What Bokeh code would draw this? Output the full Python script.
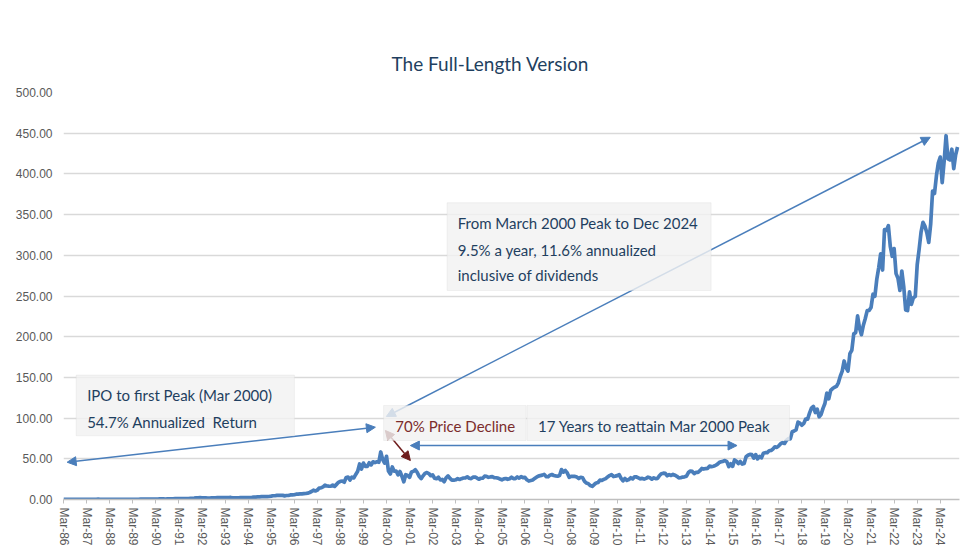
from bokeh.plotting import figure
from bokeh.models import (ColumnDataSource, FixedTicker, NumeralTickFormatter, Arrow,
                          NormalHead, BoxAnnotation, Label, Range1d)
from bokeh.embed import file_html
from bokeh.resources import INLINE

# Monthly closing price (split-adjusted, USD), March 1986 .. December 2024
month_close = [
    0.10, 0.10, 0.11, 0.10, 0.09, 0.10, 0.10, 0.11, 0.12, 0.12,                  # 1986 (Mar-Dec)
    0.17, 0.20, 0.23, 0.24, 0.25, 0.27, 0.29, 0.33, 0.36, 0.25, 0.22, 0.24,      # 1987
    0.22, 0.23, 0.25, 0.26, 0.25, 0.26, 0.27, 0.26, 0.27, 0.24, 0.23, 0.23,      # 1988
    0.26, 0.28, 0.27, 0.30, 0.31, 0.33, 0.38, 0.39, 0.40, 0.37, 0.36, 0.38,      # 1989
    0.44, 0.48, 0.56, 0.61, 0.70, 0.75, 0.68, 0.64, 0.66, 0.71, 0.82, 0.86,      # 1990
    1.00, 1.14, 1.23, 1.15, 1.13, 1.03, 1.12, 1.25, 1.38, 1.48, 1.60, 1.94,      # 1991
    2.10, 2.25, 2.05, 1.95, 2.00, 1.80, 1.84, 1.95, 2.03, 2.10, 2.35, 2.38,      # 1992
    2.35, 2.25, 2.40, 2.45, 2.35, 2.50, 2.15, 2.15, 2.00, 2.15, 2.23, 2.25,      # 1993
    2.35, 2.30, 2.30, 2.40, 2.60, 2.90, 3.00, 3.30, 3.30, 3.60, 3.60, 3.50,      # 1994
    3.60, 3.70, 4.10, 4.60, 4.60, 5.10, 5.10, 5.10, 5.10, 4.50, 4.90, 4.90,      # 1995
    5.60, 5.60, 5.80, 6.50, 6.60, 6.80, 7.00, 7.20, 7.40, 7.80, 8.60, 9.80,      # 1996
    11.5, 10.5, 11.5, 14.0, 14.5, 15.5, 17.6, 16.6, 16.4, 16.3, 17.7, 16.1,      # 1997
    18.6, 21.1, 22.4, 22.5, 21.2, 27.0, 27.5, 23.8, 27.5, 26.5, 30.8, 34.7,      # 1998
    43.6, 37.5, 44.8, 40.6, 40.6, 45.1, 42.5, 46.3, 45.3, 46.3, 45.7, 58.4,      # 1999
    48.9, 44.7, 53.1, 35.0, 31.3, 40.0, 34.8, 35.0, 30.2, 34.4, 28.6, 21.7,      # 2000
    30.5, 29.5, 27.3, 33.9, 34.6, 36.5, 33.1, 28.5, 25.6, 29.1, 32.1, 33.1,      # 2001
    31.9, 29.2, 30.2, 26.1, 25.5, 27.4, 24.0, 24.6, 21.9, 26.7, 28.9, 25.9,      # 2002
    23.7, 23.7, 24.2, 25.6, 24.6, 25.6, 26.4, 26.5, 27.8, 26.1, 25.7, 27.4,      # 2003
    27.6, 26.5, 24.9, 26.1, 26.2, 28.6, 28.5, 27.3, 27.7, 28.0, 26.8, 26.7,      # 2004
    26.3, 25.2, 24.2, 25.3, 25.8, 24.8, 25.6, 27.4, 25.7, 25.7, 27.7, 26.2,      # 2005
    28.2, 26.9, 27.2, 24.2, 22.7, 23.3, 24.0, 25.7, 27.4, 28.7, 29.4, 29.9,      # 2006
    30.9, 28.2, 27.9, 29.9, 30.7, 29.5, 29.0, 28.7, 29.5, 36.8, 33.6, 35.6,      # 2007
    32.6, 27.2, 28.4, 28.5, 28.3, 27.5, 25.7, 27.3, 26.7, 22.3, 20.2, 19.4,      # 2008
    17.1, 16.2, 18.4, 20.3, 20.9, 23.8, 23.5, 24.7, 25.7, 27.7, 29.4, 30.5,      # 2009
    28.2, 28.7, 29.3, 30.5, 26.0, 23.0, 25.8, 23.5, 24.5, 26.7, 25.3, 27.9,      # 2010
    27.7, 26.6, 25.4, 26.0, 25.0, 26.0, 27.4, 26.6, 24.9, 26.6, 25.6, 26.0,      # 2011
    29.5, 31.7, 32.3, 32.0, 29.2, 30.6, 29.5, 30.8, 29.8, 28.5, 26.6, 26.7,      # 2012
    27.5, 27.8, 28.6, 33.1, 34.9, 34.5, 31.8, 33.4, 33.3, 35.4, 38.1, 37.4,      # 2013
    38.0, 38.3, 41.0, 40.4, 40.9, 41.7, 43.2, 45.4, 46.4, 46.9, 47.8, 46.5,      # 2014
    40.4, 43.9, 40.7, 48.6, 47.0, 44.2, 46.7, 43.5, 44.3, 52.6, 54.4, 55.5,      # 2015
    55.1, 50.9, 55.2, 49.9, 53.0, 51.2, 56.7, 57.5, 57.6, 59.9, 60.3, 62.1,      # 2016
    64.7, 64.0, 65.9, 68.5, 69.8, 68.9, 72.7, 74.8, 74.5, 83.2, 84.2, 85.5,      # 2017
    95.0, 93.8, 91.3, 93.5, 98.8, 98.6, 106.1, 112.3, 114.4, 106.8, 110.9, 101.6,   # 2018
    104.4, 112.0, 117.9, 130.6, 123.7, 134.0, 136.3, 137.9, 139.0, 143.4, 151.4, 157.7,  # 2019
    170.2, 162.0, 157.7, 179.2, 183.3, 203.5, 205.0, 225.5, 210.3, 202.5, 214.1, 222.4,  # 2020
    232.0, 232.4, 235.8, 252.2, 249.7, 270.9, 284.9, 301.9, 281.9, 331.6, 330.6, 336.3,  # 2021
    311.0, 298.8, 308.3, 277.5, 271.9, 256.8, 280.7, 261.5, 232.9, 232.1, 255.1, 239.8,  # 2022
    247.8, 249.4, 288.3, 307.3, 328.4, 340.5, 335.9, 327.8, 315.8, 338.1, 378.9, 376.0,  # 2023
    397.6, 413.6, 420.7, 389.3, 415.1, 446.9, 418.4, 417.1, 430.3, 406.4, 423.5, 433.0,  # 2024
]
first_year = 1986           # series starts in March 1986
tick_years = list(range(1986, 2025))
tick_labels = ["Mar-%02d" % (y % 100) for y in tick_years]
y_ticks = [0, 50, 100, 150, 200, 250, 300, 350, 400, 450, 500]

# x = months since March 1986
months = list(range(len(month_close)))
src = ColumnDataSource(data=dict(x=months, y=month_close))

BLUE = "#4A7EBB"
TXT = "#1F3F60"
RED_TXT = "#7B2C2C"
RED = "#6E1C1C"

p = figure(width=960, height=550, output_backend="svg", toolbar_location=None,
           x_range=Range1d(0, 466), y_range=Range1d(0, 500),
           min_border_left=63, min_border_right=1, min_border_top=92, min_border_bottom=51)
p.outline_line_color = None

p.title.text = "The Full-Length Version"
p.title.text_font = "Lato"
p.title.text_font_style = "normal"
p.title.text_font_size = "19px"
p.title.text_color = "#1F3F60"
p.title.align = "left"
p.title.offset = 328
p.title.standoff = 36

p.line("x", "y", source=src, line_color=BLUE, line_width=3.7, line_join="round")

# axes
tick_pos = [(y - first_year) * 12 for y in tick_years]
p.xaxis.ticker = FixedTicker(ticks=tick_pos)
p.xaxis.major_label_overrides = {t: l for t, l in zip(tick_pos, tick_labels)}
p.xaxis.major_label_orientation = "vertical"
p.xaxis.major_label_text_font = "Liberation Sans"
p.xaxis.major_label_text_font_size = "12px"
p.xaxis.major_label_text_color = "#595959"
p.xaxis.axis_line_color = "#BFBFBF"
p.xaxis.axis_line_width = 1.5
p.xaxis.major_tick_line_color = "#BFBFBF"
p.xaxis.major_tick_in = 0
p.xaxis.major_tick_out = 4
p.xaxis.minor_tick_line_color = None
p.xaxis.major_label_standoff = 4

p.yaxis.ticker = FixedTicker(ticks=y_ticks)
p.yaxis.formatter = NumeralTickFormatter(format="0.00")
p.yaxis.major_label_text_font = "Liberation Sans"
p.yaxis.major_label_text_font_size = "12px"
p.yaxis.major_label_text_color = "#595959"
p.yaxis.axis_line_color = None
p.yaxis.major_tick_line_color = None
p.yaxis.minor_tick_line_color = None
p.yaxis.major_tick_in = 0
p.yaxis.major_tick_out = 0
p.yaxis.major_label_standoff = 11

p.xgrid.grid_line_color = None
p.ygrid.grid_line_color = "#D9D9D9"
p.ygrid.grid_line_width = 1.5


def arrow(x0, y0, x1, y1, color, both=True):
    head = NormalHead(size=9, fill_color=color, line_color=color)
    start = NormalHead(size=9, fill_color=color, line_color=color) if both else None
    p.add_layout(Arrow(x_start=x0, y_start=y0, x_end=x1, y_end=y1, end=head, start=start,
                       line_color=color, line_width=1.5))


# arrows (drawn beneath the translucent boxes)
arrow(1.9, 45.8, 162.2, 88.8, BLUE)          # IPO -> first peak
arrow(167.9, 102.0, 450.8, 445.0, BLUE)      # Mar 2000 peak -> Dec 2024
arrow(167.4, 84.8, 180.4, 47.9, RED)         # 70% decline
arrow(180.4, 66.3, 350.3, 66.3, BLUE)        # 17 years


def box(l, r, t, b):
    p.add_layout(BoxAnnotation(left=l, right=r, top=t, bottom=b, fill_color="#F2F2F2",
                               fill_alpha=0.82, line_color="#D6D6D6", line_width=1))


box(6.6, 120.1, 152.8, 78.3)
box(166.5, 240.6, 115.5, 72.5)
box(241.1, 377.6, 115.5, 72.5)
box(199.5, 336.8, 364.5, 256.8)


def label(x, y, text, color=TXT):
    p.add_layout(Label(x=x, y=y, text=text, text_font="Lato", text_font_size="15px",
                       text_color=color, text_baseline="middle", text_align="left"))


label(12.3, 128.6, "IPO to first Peak (Mar 2000)")
label(12.3, 95.8, "54.7% Annualized\u00a0\u00a0Return")
label(172.6, 90.9, "70% Price Decline", RED_TXT)
label(246.8, 90.9, "17 Years to reattain Mar 2000 Peak")
label(205.0, 339.9, "From March 2000 Peak to Dec 2024")
label(205.0, 307.1, "9.5% a year, 11.6% annualized")
label(205.0, 275.2, "inclusive of dividends")

open("out.html", "w").write(file_html(p, INLINE))
